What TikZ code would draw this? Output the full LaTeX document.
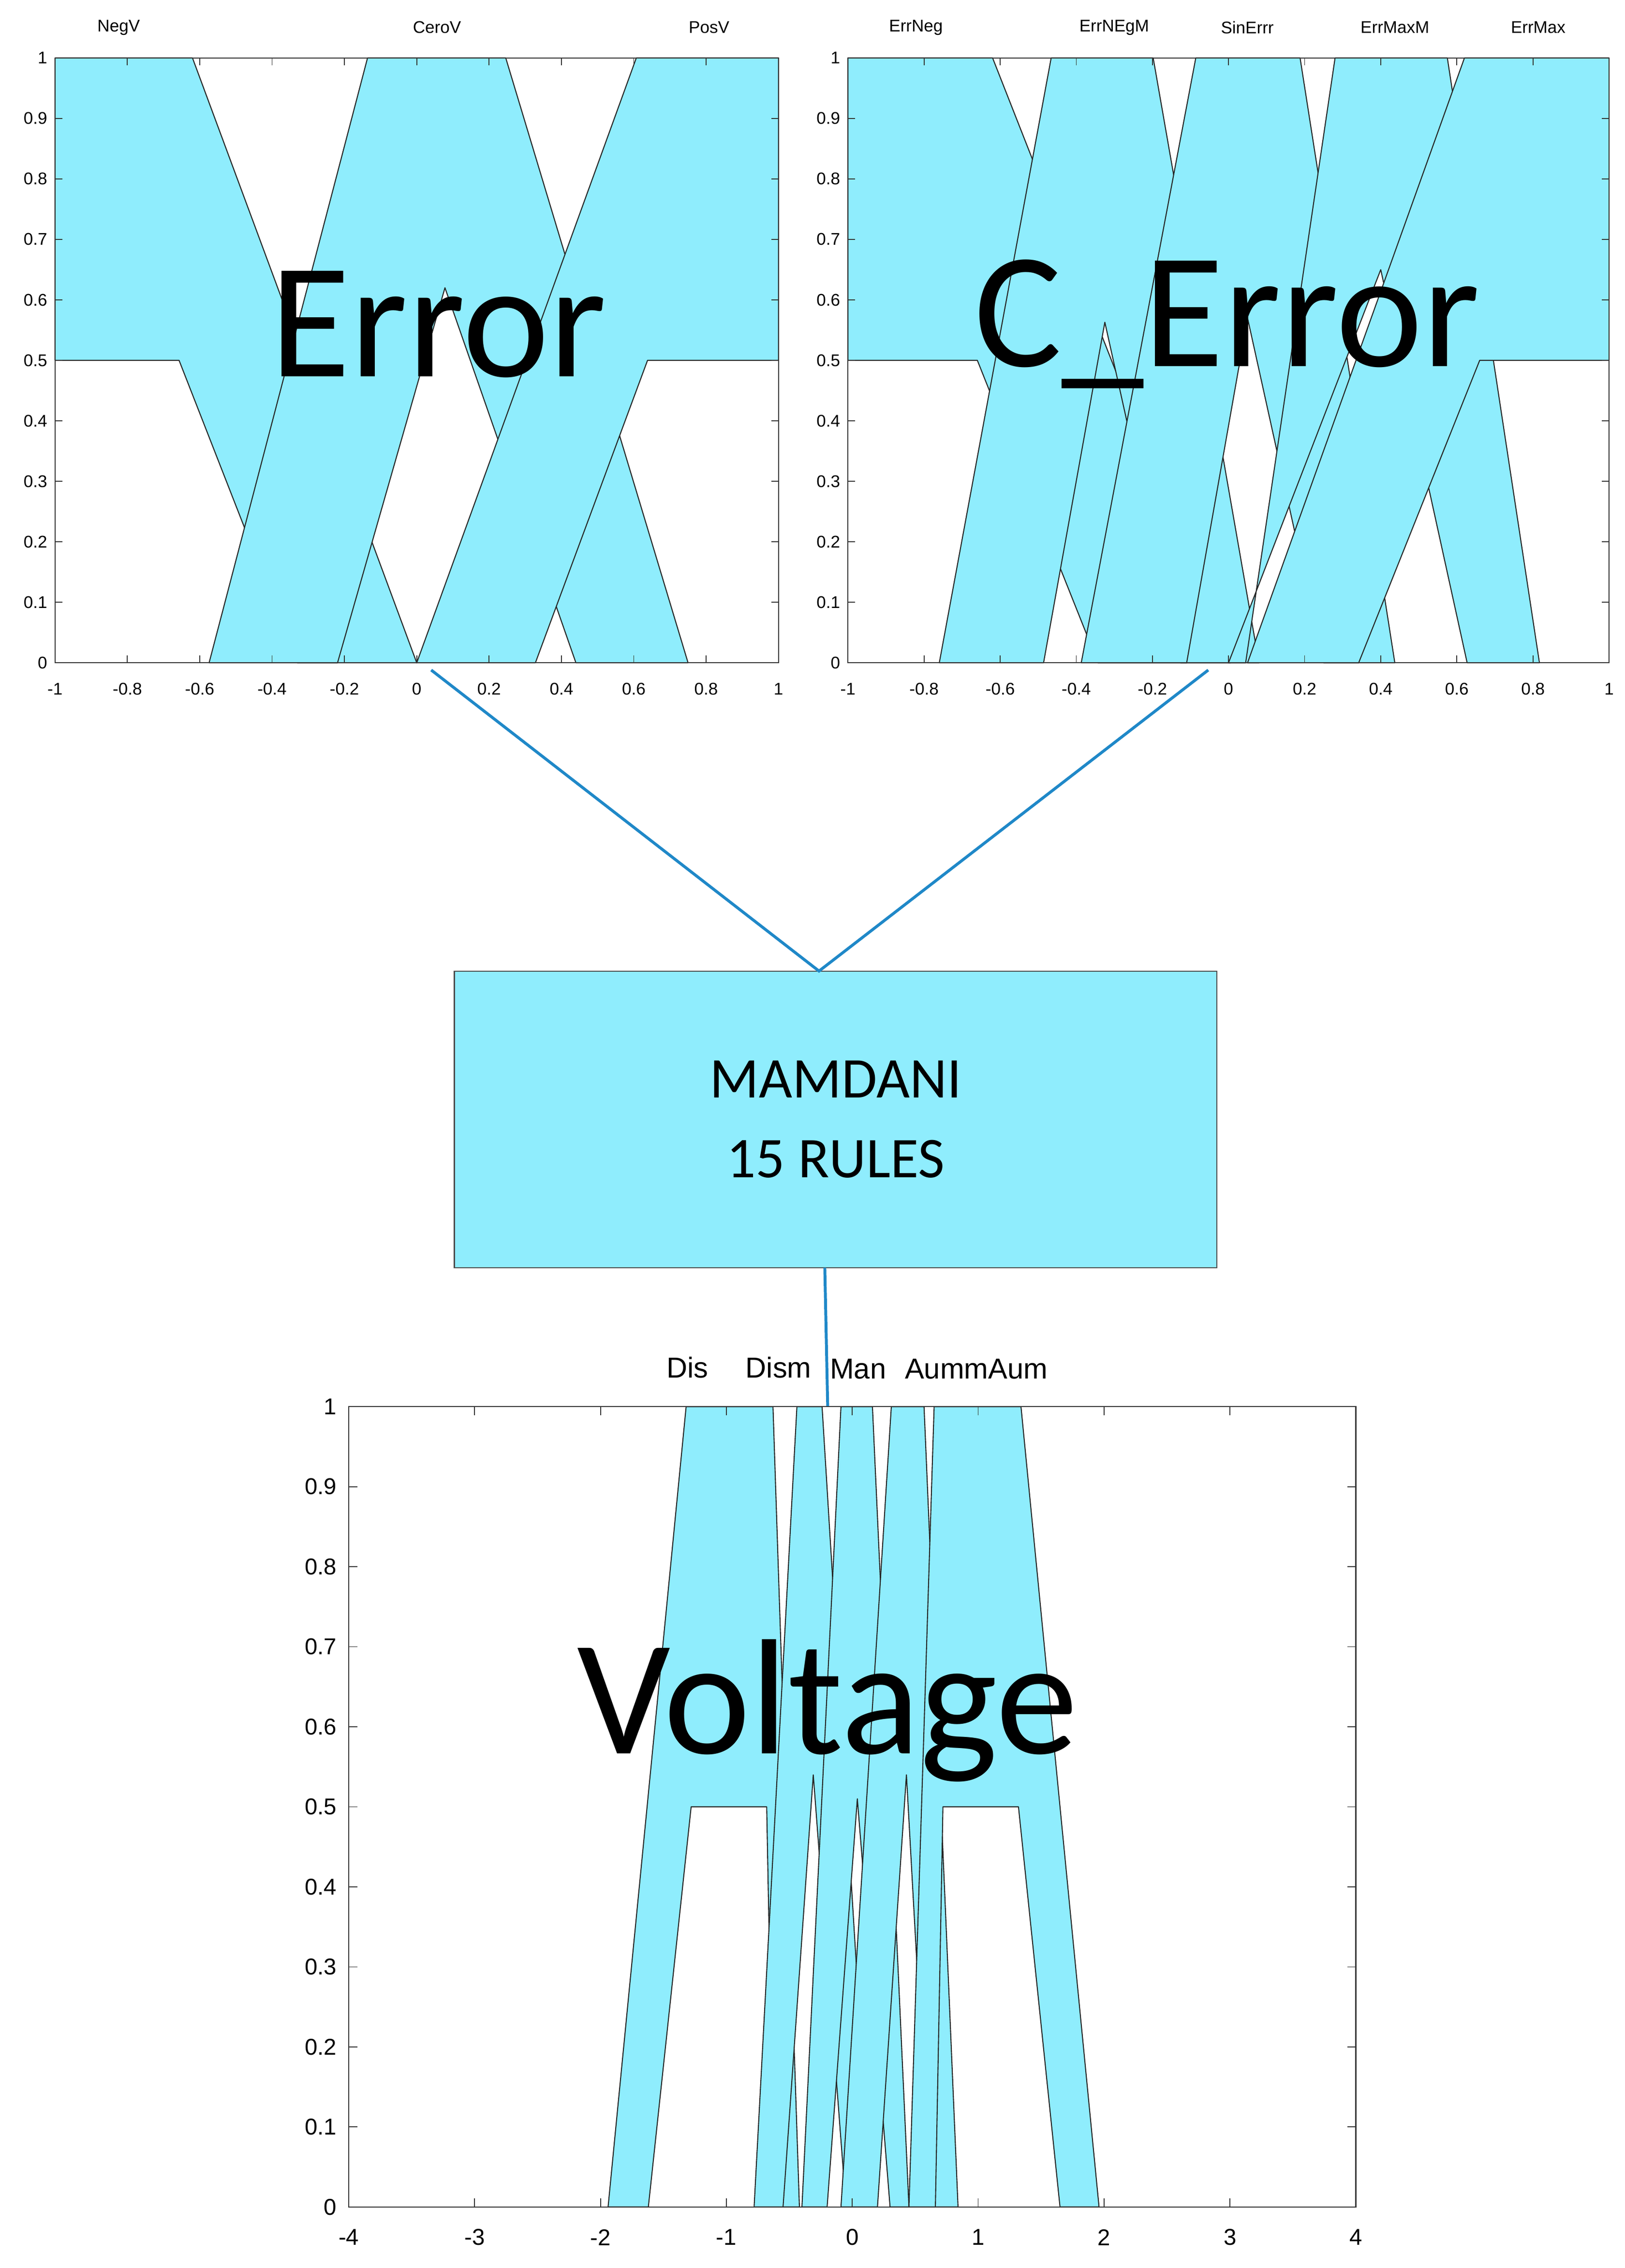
\documentclass[tikz,border=0pt]{standalone}
\usepackage{fontspec}
\setmainfont{Liberation Sans}
\newfontfamily\calfont{Carlito}
\definecolor{cy}{RGB}{143,237,253}
\definecolor{conn}{RGB}{31,136,200}
\begin{document}
\begin{tikzpicture}[x=0.03cm,y=-0.03cm,
  fou/.style={fill=cy,draw=black!85,line width=0.6pt,line join=round},
  axbox/.style={draw=black!80,line width=0.6pt},
  tk/.style={draw=black!80,line width=0.5pt},
  smalllab/.style={font=\fontsize{10}{10}\selectfont,inner sep=1pt},
  vlab/.style={font=\fontsize{13.5}{13.5}\selectfont,inner sep=1pt},
  mflab/.style={font=\fontsize{17}{17}\selectfont,inner sep=1pt},
  biglab/.style={font=\calfont\fontsize{97}{97}\selectfont,inner sep=0pt},
  conline/.style={draw=conn,line width=1.7pt}]
\useasboundingbox (0,0) rectangle (1123,1567.2);
\fill[white] (0,0) rectangle (1123,1567.2);

% ===== Error plot =====
\begin{scope}[shift={(288,458)},xscale=250,yscale=-418]
\draw[fou] (-1,1)--(-0.62,1)--(0,0)--(-0.33,0)--(-0.657,0.5)--(-1,0.5)--cycle;
\draw[fou] (-0.574,0)--(-0.136,1)--(0.246,1)--(0.75,0)--(0.44,0)--(0.078,0.62)--(-0.219,0)--cycle;
\draw[fou] (0,0)--(0.607,1)--(1,1)--(1,0.5)--(0.638,0.5)--(0.328,0)--cycle;
\end{scope}
\draw[axbox] (38,40) rectangle (538,458);
\foreach \i in {0,...,10}{\pgfmathsetmacro\xx{38+50*\i}\pgfmathsetmacro\yy{458-41.8*\i}
  \draw[tk] (\xx,458)--(\xx,453) (\xx,40)--(\xx,45) (38,\yy)--(43,\yy) (538,\yy)--(533,\yy);}
\foreach \t [count=\i from 0] in {-1,-0.8,-0.6,-0.4,-0.2,0,0.2,0.4,0.6,0.8,1}
  \node[smalllab] (exl\i) at ({38+50*\i},476) {\t};
\foreach \t [count=\i from 0] in {0,0.1,0.2,0.3,0.4,0.5,0.6,0.7,0.8,0.9,1}
  \node[smalllab,anchor=east] (eyl\i) at (34,{458-41.8*\i}) {\t};
\node[smalllab] (negv) at (82,19) {NegV};
\node[smalllab] (cerov) at (302,19) {CeroV};
\node[smalllab] (posv) at (490,19) {PosV};
\node[biglab] (errt) at (303,224) {Error};

% ===== C_Error plot =====
\begin{scope}[shift={(849,458)},xscale=263,yscale=-418]
\draw[fou] (-1,1)--(-0.62,1)--(0.005,0)--(-0.343,0)--(-0.66,0.5)--(-1,0.5)--cycle;
\draw[fou] (-0.76,0)--(-0.466,1)--(-0.198,1)--(0.08,0)--(-0.126,0)--(-0.325,0.563)--(-0.486,0)--cycle;
\draw[fou] (-0.387,0)--(-0.086,1)--(0.188,1)--(0.437,0)--(0.25,0)--(0.05,0.57)--(-0.11,0)--cycle;
\draw[fou] (0.045,0)--(0.28,1)--(0.575,1)--(0.817,0)--(0.627,0)--(0.40,0.65)--(0.0,0)--cycle;
\draw[fou] (0.05,0)--(0.62,1)--(1,1)--(1,0.5)--(0.66,0.5)--(0.342,0)--cycle;
\end{scope}
\draw[axbox] (586,40) rectangle (1112,458);
\foreach \i in {0,...,10}{\pgfmathsetmacro\xx{586+52.6*\i}\pgfmathsetmacro\yy{458-41.8*\i}
  \draw[tk] (\xx,458)--(\xx,453) (\xx,40)--(\xx,45) (586,\yy)--(591,\yy) (1112,\yy)--(1107,\yy);}
\foreach \t [count=\i from 0] in {-1,-0.8,-0.6,-0.4,-0.2,0,0.2,0.4,0.6,0.8,1}
  \node[smalllab] (cxl\i) at ({586+52.6*\i},476) {\t};
\foreach \t [count=\i from 0] in {0,0.1,0.2,0.3,0.4,0.5,0.6,0.7,0.8,0.9,1}
  \node[smalllab,anchor=east] (cyl\i) at (582,{458-41.8*\i}) {\t};
\node[smalllab] (errneg) at (633,19) {ErrNeg};
\node[smalllab] (errnegm) at (770,19) {ErrNEgM};
\node[smalllab] (sinerr) at (862,19) {SinErrr};
\node[smalllab] (errmaxm) at (964,19) {ErrMaxM};
\node[smalllab] (errmax) at (1063,19) {ErrMax};
\node[biglab] (cerrt) at (848,224) {C\_Error};

% ===== MAMDANI box =====
\node[draw=black!70,fill=cy,line width=0.6pt,minimum width=527*0.03cm,minimum height=205*0.03cm,
  align=center,font=\calfont\fontsize{34}{47}\selectfont] (mam) at (577.5,773.5) {MAMDANI\\15 RULES};
\coordinate (etap) at (298,463);
\coordinate (ctap) at (835,463);
\coordinate (mtop) at (566,671);
\coordinate (mbot) at (570,876);
\coordinate (vtap) at (572,972);
\draw[conline] (etap)--(mtop)--(ctap);
\draw[conline] (mbot)--(vtap);

% ===== Voltage plot =====
\begin{scope}[shift={(589,1525)},xscale=87,yscale=-553]
\draw[fou] (-1.94,0)--(-1.32,1)--(-0.63,1)--(-0.42,0)--(-0.62,0)--(-0.68,0.5)--(-1.28,0.5)--(-1.62,0)--cycle;
\draw[fou] (-0.78,0)--(-0.44,1)--(-0.24,1)--(0.15,0)--(-0.05,0)--(-0.31,0.54)--(-0.55,0)--cycle;
\draw[fou] (-0.4,0)--(-0.09,1)--(0.16,1)--(0.45,0)--(0.3,0)--(0.04,0.51)--(-0.2,0)--cycle;
\draw[fou] (-0.09,0)--(0.31,1)--(0.57,1)--(0.84,0)--(0.62,0)--(0.43,0.54)--(0.2,0)--cycle;
\draw[fou] (0.45,0)--(0.65,1)--(1.34,1)--(1.96,0)--(1.65,0)--(1.32,0.5)--(0.72,0.5)--(0.66,0)--cycle;
\end{scope}
\draw[axbox] (241,972) rectangle (937,1525);
\foreach \i in {0,...,8}{\pgfmathsetmacro\xx{241+87*\i}
  \draw[tk] (\xx,1525)--(\xx,1519) (\xx,972)--(\xx,978);}
\foreach \i in {0,...,10}{\pgfmathsetmacro\yy{1525-55.3*\i}
  \draw[tk] (241,\yy)--(247,\yy) (937,\yy)--(931,\yy);}
\foreach \t [count=\i from 0] in {-4,-3,-2,-1,0,1,2,3,4}
  \node[vlab] (vxl\i) at ({241+87*\i},1546) {\t};
\foreach \t [count=\i from 0] in {0,0.1,0.2,0.3,0.4,0.5,0.6,0.7,0.8,0.9,1}
  \node[vlab,anchor=east] (vyl\i) at (234,{1525-55.3*\i}) {\t};
\node[mflab] (dis) at (475,945) {Dis};
\node[mflab] (dism) at (538,945) {Dism};
\node[mflab] (man) at (593,946) {Man};
\node[mflab,anchor=west] (aumm) at (624,946) {AummAum};
\node[biglab] (volt) at (572,1182) {Voltage};
\end{tikzpicture}
\end{document}
